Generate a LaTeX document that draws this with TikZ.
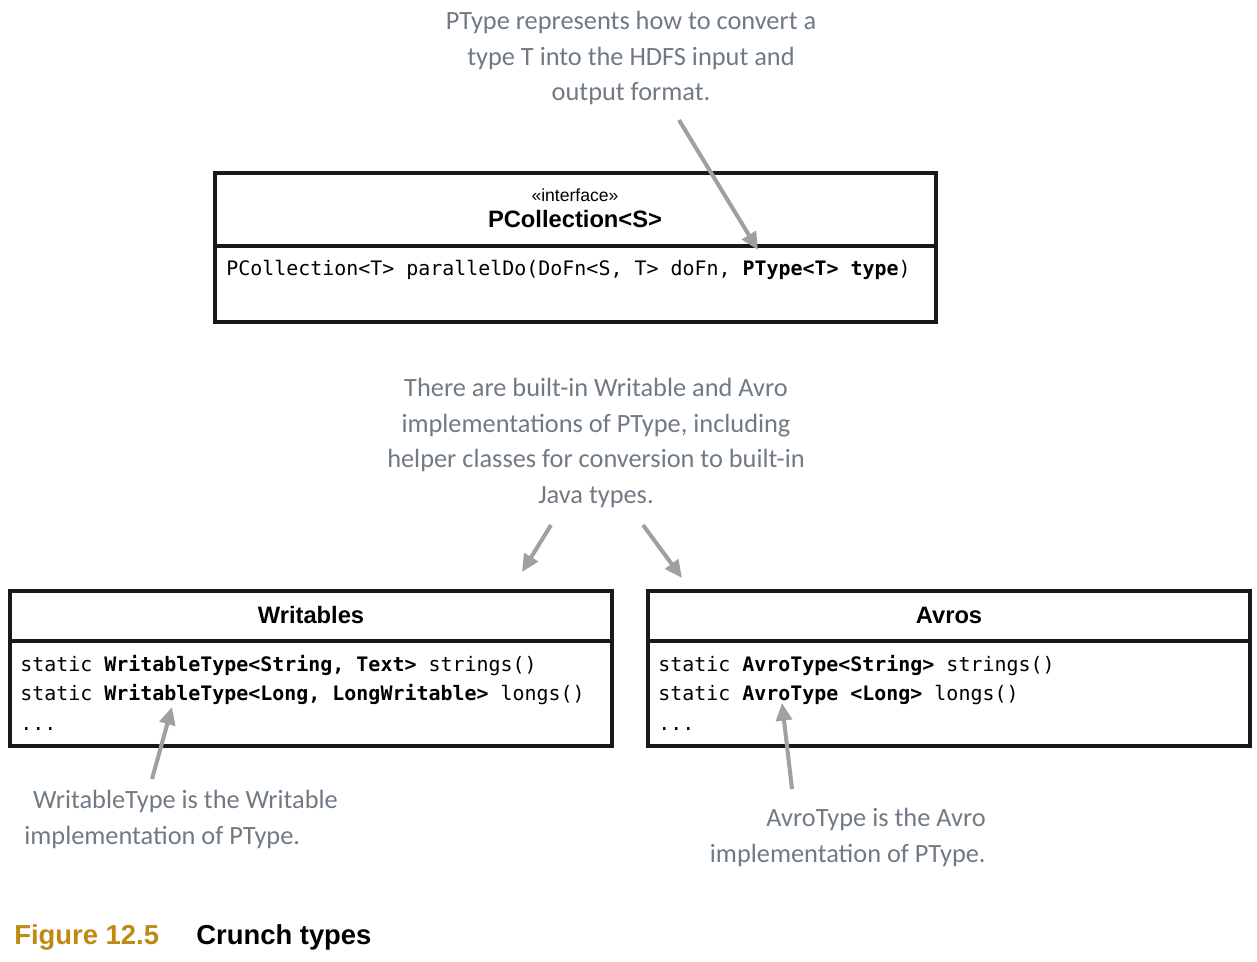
\documentclass[tikz,border=0pt]{standalone}
\usepackage{fontspec}
\setmainfont{Liberation Sans}
\setmonofont{DejaVu Sans Mono}
\newfontfamily\notefont{Carlito}
\usetikzlibrary{arrows.meta, positioning}

\definecolor{notegray}{RGB}{112,122,132}
\definecolor{arrowgray}{RGB}{160,160,160}
\definecolor{figgold}{RGB}{190,138,20}

\tikzset{
  classbox/.style={draw=black!90, line width=2pt, inner sep=0pt},
  divider/.style={draw=black!90, line width=2pt},
  note/.style={text=notegray, font=\notefont\fontsize{15}{20.4}\selectfont, inner sep=0pt},
  notearrow/.style={draw=arrowgray, line width=2.3pt, -{Triangle[length=10pt,width=9pt]}},
  code/.style={font=\ttfamily\fontsize{11.35}{16}\selectfont, anchor=base west, inner sep=0pt},
  classname/.style={font=\bfseries\fontsize{13.5}{16}\selectfont, inner sep=0pt},
}

\begin{document}
\begin{tikzpicture}[x=0.02cm, y=-0.02cm]
  \useasboundingbox (0,0) rectangle (1257,961);

  % -- PCollection interface --
  \node[classbox, minimum width=14.42cm, minimum height=2.98cm] (pcoll) at (575.5,247.5) {};
  \draw[divider] (215,246) -- (936,246);
  \node[font=\fontsize{10}{12}\selectfont, inner sep=0pt] (stereo) at (575,195) {«interface»};
  \node[classname] (pcollname) at (575,219) {PCollection<S>};
  \node[code] (pardo) at (226,275) {PCollection<T> parallelDo(DoFn<S, T> doFn, \textbf{PType<T> type})};

  % -- Writables --
  \node[classbox, minimum width=12.04cm, minimum height=3.10cm] (writables) at (311,668.5) {};
  \draw[divider] (10,641) -- (612,641);
  \node[classname] (wname) at (311,615) {Writables};
  \node[code] (wstr) at (20,671) {static \textbf{WritableType<String, Text>} strings()};
  \node[code] (wlong) at (20,700) {static \textbf{WritableType<Long, LongWritable>} longs()};
  \node[code] (wdots) at (20,730) {...};

  % -- Avros --
  \node[classbox, minimum width=12.04cm, minimum height=3.10cm] (avros) at (949,668.5) {};
  \draw[divider] (648,641) -- (1250,641);
  \node[classname] (aname) at (949,615) {Avros};
  \node[code] (astr) at (658,671) {static \textbf{AvroType<String>} strings()};
  \node[code] (along) at (658,700) {static \textbf{AvroType <Long>} longs()};
  \node[code] (adots) at (658,730) {...};

  % -- Annotations --
  \node[note, align=center] (ptypenote) at (631,58) {PType represents how to convert a\\type T into the HDFS input and\\output format.};
  \node[note, align=center] (builtinnote) at (596,443) {There are built-in Writable and Avro\\implementations of PType, including\\helper classes for conversion to built-in\\Java types.};
  \node[note, align=left, anchor=north west] (wtypenote) at (24,790) {\hspace{5pt}WritableType is the Writable\\implementation of PType.};
  \node[note, align=right, anchor=north east] (atypenote) at (986,808) {AvroType is the Avro\\implementation of PType.};

  % -- Arrow ends --
  \coordinate (ptypefrom) at (679,120);
  \coordinate (ptypeto) at (758,250);
  \coordinate (leftfrom) at (551,525);
  \coordinate (leftto) at (522,572);
  \coordinate (rightfrom) at (643,525);
  \coordinate (rightto) at (682,578);
  \coordinate (wfrom) at (152,779);
  \coordinate (wto) at (172,707);
  \coordinate (afrom) at (792,789);
  \coordinate (ato) at (782,703);

  \draw[notearrow] (ptypefrom) -- (ptypeto);
  \draw[notearrow] (leftfrom) -- (leftto);
  \draw[notearrow] (rightfrom) -- (rightto);
  \draw[notearrow] (wfrom) -- (wto);
  \draw[notearrow] (afrom) -- (ato);

  % -- Caption --
  \node[anchor=base west, inner sep=0pt, text=figgold, font=\bfseries\fontsize{15.6}{19}\selectfont] (figlabel) at (14,944) {Figure 12.5};
  \node[anchor=base west, inner sep=0pt, font=\bfseries\fontsize{15.6}{19}\selectfont] (figtitle) at (196,944) {Crunch types};
\end{tikzpicture}
\end{document}
